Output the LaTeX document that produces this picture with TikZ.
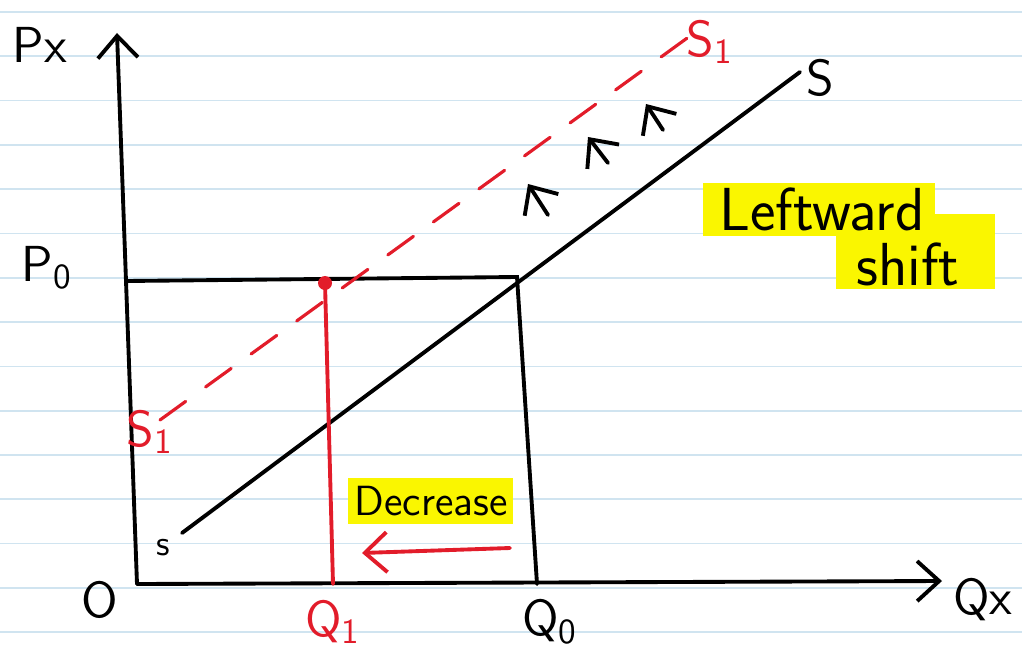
\documentclass[tikz,border=0pt]{standalone}
\usepackage{tikz}
\usetikzlibrary{arrows.meta,positioning,calc}
\definecolor{paperline}{RGB}{208,228,240}
\definecolor{shiftred}{RGB}{226,28,42}
\definecolor{marker}{RGB}{250,246,0}

\begin{document}
\begin{tikzpicture}[x=0.01cm,y=-0.01cm,font=\sffamily,
  axis/.style={line width=1.1pt,line cap=round},
  curve/.style={line width=1.1pt,line cap=round},
  redline/.style={line width=1.1pt,shiftred,line cap=round},
  barb/.style={-{Straight Barb[length=2.2mm,width=4mm]}},
  lbl/.style={font=\sffamily\Large},
  hl/.style={fill=marker,draw=none}]
\useasboundingbox (0,0) rectangle (1022,652);
% ruled paper
\foreach \i in {0,...,14}{
  \pgfmathsetmacro\ya{12+\i*44.3}
  \draw[paperline,line width=0.5pt] (0,\ya)--(1022,\ya);
}
% highlighter
\fill[hl] (703,183) rectangle (935,236);
\fill[hl] (836,214) rectangle (995,289);
\fill[hl] (348,478) rectangle (513,524);
% axes
\coordinate (O) at (137,584);
\coordinate (ytop) at (117,33);
\coordinate (xend) at (942,581);
\draw[axis,barb] (O)--(ytop);
\draw[axis,barb] (O)--(xend);
\node[lbl] (px) at (40,45) {Px};
\node[lbl] (qx) at (983,600) {Qx};
\node[lbl] (orig) at (100,600) {O};
% equilibrium on S
\coordinate (p0) at (127,281);
\coordinate (E0) at (517,277);
\coordinate (q0) at (537,584);
\draw[axis] (p0)--(E0)--(q0);
\node[lbl] (P0) at (47,268) {P\textsubscript{0}};
\node[lbl] (Q0) at (550,622) {Q\textsubscript{0}};
% S curve
\coordinate (sa) at (182,533);
\coordinate (sb) at (800,72);
\draw[curve] (sa)--(sb);
\node[font=\sffamily\normalsize] (slo) at (163,548) {s};
\node[font=\sffamily\Large] (shi) at (820,78) {S};
% S1 curve (dashed)
\coordinate (s1a) at (160,420);
\coordinate (s1b) at (690,36);
\draw[redline,dashed,dash pattern=on 9pt off 7pt,line width=0.9pt] (s1a)--(s1b);
\node[lbl,shiftred] (s1lo) at (150,432) {S\textsubscript{1}};
\node[lbl,shiftred] (s1hi) at (710,42) {S\textsubscript{1}};
% new equilibrium
\coordinate (q1) at (333,584);
\fill[shiftred] (325,283) circle (7) coordinate (E1);
\draw[redline] (E1)--(q1);
\node[lbl,shiftred] (Q1) at (333,622) {Q\textsubscript{1}};
% shift arrows
\coordinate (a1) at (548,215); \coordinate (b1) at (528,184);
\coordinate (a2) at (608,163); \coordinate (b2) at (588,137);
\coordinate (a3) at (663,130); \coordinate (b3) at (646,104);
\foreach \k in {1,2,3}
  \draw[curve,barb] (a\k)--(b\k);
% labels
\node[font=\sffamily\LARGE,inner sep=0pt] (lw) at (822,209) {Leftward};
\node[font=\sffamily\LARGE,inner sep=0pt] (sh) at (908,264) {shift};
\node[font=\sffamily\large] (dec) at (431,501) {Decrease};
\coordinate (da) at (510,548);
\coordinate (db) at (362,553);
\draw[redline,barb] (da)--(db);
\end{tikzpicture}
\end{document}
